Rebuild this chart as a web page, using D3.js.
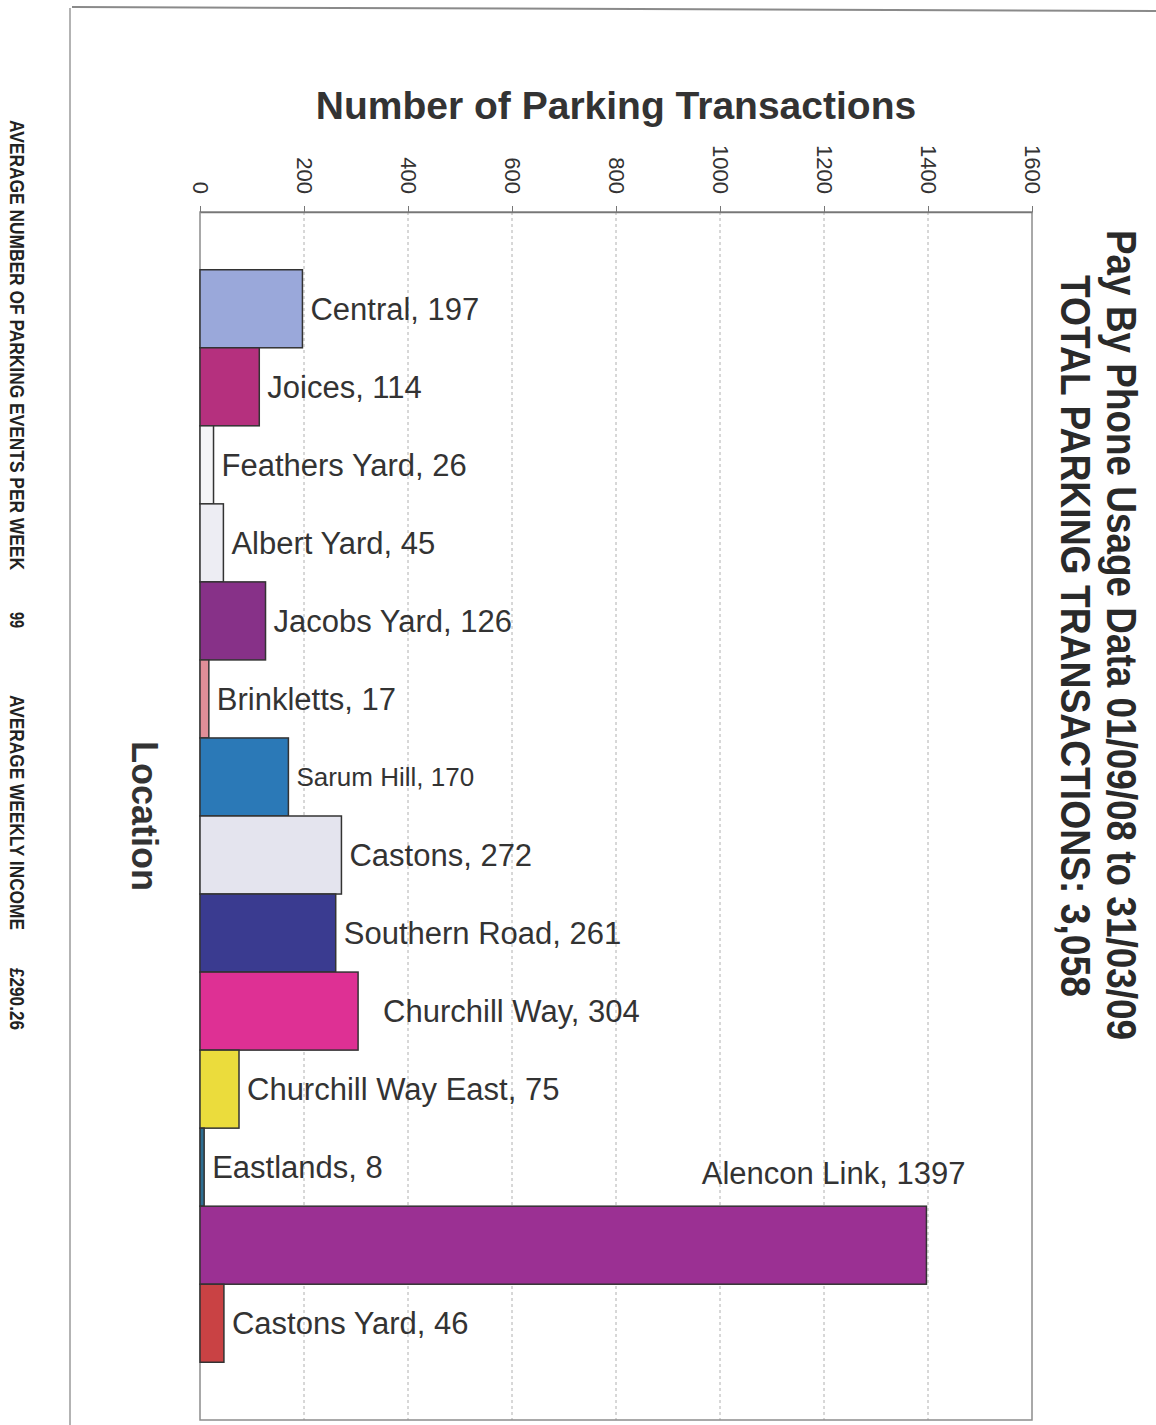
<!DOCTYPE html>
<html>
<head>
<meta charset="utf-8">
<script src="https://cdn.jsdelivr.net/npm/d3@7"></script>
<style>
  body { margin: 0; background: #fff; }
  svg { display: block; font-family: "Liberation Sans", Arial, sans-serif; }
</style>
</head>
<body>
<div id="chart"></div>
<script>
// data
const locations = ['Central', 'Joices', 'Feathers Yard', 'Albert Yard', 'Jacobs Yard', 'Brinkletts',
  'Sarum Hill', 'Castons', 'Southern Road', 'Churchill Way', 'Churchill Way East', 'Eastlands',
  'Alencon Link', 'Castons Yard'];
const transactions = [197, 114, 26, 45, 126, 17, 170, 272, 261, 304, 75, 8, 1397, 46];
const barColours = ['#9aa8da', '#b5307e', '#f5f5f7', '#ededf3', '#873188', '#e08e98',
  '#2b79b7', '#e4e4ee', '#3a3b90', '#de3094', '#ebdc3c', '#2e6e92', '#9b3093', '#c94244'];
const xTicks = [0, 200, 400, 600, 800, 1000, 1200, 1400, 1600];

const titleText = 'Number of Parking Transactions';
const headLines = ['Pay By Phone Usage Data 01/09/08 to 31/03/09', 'TOTAL PARKING TRANSACTIONS: 3,058'];
const footTexts = ['AVERAGE NUMBER OF PARKING EVENTS PER WEEK', '99', 'AVERAGE WEEKLY INCOME', '£290.26'];

const data = locations.map((name, i) => ({name, value: transactions[i], colour: barColours[i]}));

const W = 1156, H = 1425;
const svg = d3.select('#chart').append('svg')
  .attr('width', W)
  .attr('height', H);

// page edge of the scanned sheet
svg.append('line')
  .attr('x1', 72).attr('y1', 7).attr('x2', W).attr('y2', 11)
  .attr('stroke', '#8a8a8a').attr('stroke-width', 2);
svg.append('line')
  .attr('x1', 70).attr('y1', 8).attr('x2', 70).attr('y2', H)
  .attr('stroke', '#9a9a9a').attr('stroke-width', 1.5);

const plot = {left: 200, right: 1032, top: 212, bottom: 1420};

const xScale = d3.scaleLinear()
  .domain([0, 1600])
  .range([plot.left, plot.right]);

const yScale = d3.scaleBand()
  .domain(locations)
  .range([plot.top, plot.bottom])
  .paddingInner(0)
  .paddingOuter(0.74);

// dashed gridlines
svg.append('g').selectAll('line')
  .data(xTicks.slice(1, -1))
  .join('line')
    .attr('x1', d => xScale(d)).attr('x2', d => xScale(d))
    .attr('y1', plot.top).attr('y2', plot.bottom)
    .attr('stroke', '#b0b0b0')
    .attr('stroke-dasharray', '3,3');

svg.append('rect')
  .attr('x', plot.left).attr('y', plot.top)
  .attr('width', plot.right - plot.left).attr('height', plot.bottom - plot.top)
  .attr('fill', 'none').attr('stroke', '#8c8c8c').attr('stroke-width', 1.5);

const axis = svg.append('g')
  .attr('transform', `translate(0, ${plot.top})`)
  .call(d3.axisTop(xScale).tickValues(xTicks).tickFormat(d3.format('d')).tickSize(6).tickSizeOuter(0));
axis.select('.domain').attr('stroke', '#777').attr('stroke-width', 1.5);
axis.selectAll('.tick line').attr('stroke', '#777');
axis.selectAll('.tick text')
  .attr('x', -18).attr('y', 0).attr('dy', '0.35em')
  .attr('transform', 'rotate(90)')
  .attr('text-anchor', 'end')
  .attr('font-family', '"Liberation Sans", Arial, sans-serif')
  .attr('font-size', 22)
  .attr('fill', '#333');

// bars
svg.append('g').selectAll('rect')
  .data(data)
  .join('rect')
    .attr('x', xScale(0))
    .attr('y', d => yScale(d.name))
    .attr('width', d => xScale(d.value) - xScale(0))
    .attr('height', yScale.bandwidth())
    .attr('fill', d => d.colour)
    .attr('stroke', '#333')
    .attr('stroke-width', 1.5);

// data labels, "Name, value"
const maxValue = d3.max(transactions);
const nudge = {'Churchill Way': 17};
svg.append('g').selectAll('text')
  .data(data)
  .join('text')
    .attr('x', d => d.value === maxValue ? xScale(d.value) + 39 : xScale(d.value) + 8 + (nudge[d.name] || 0))
    .attr('y', d => d.value === maxValue
      ? yScale(d.name) - yScale.bandwidth() / 2 + 6
      : yScale(d.name) + yScale.bandwidth() / 2)
    .attr('dy', '0.35em')
    .attr('text-anchor', d => d.value === maxValue ? 'end' : 'start')
    .attr('font-size', d => d.name === 'Sarum Hill' ? 26 : 31)
    .attr('fill', '#333')
    .text(d => `${d.name}, ${d.value}`);

// titles
svg.append('text')
  .attr('x', 616).attr('y', 119)
  .attr('text-anchor', 'middle')
  .attr('font-size', 39).attr('font-weight', 'bold')
  .attr('fill', '#333')
  .text(titleText);

svg.append('text')
  .attr('transform', 'translate(132, 816) rotate(90)')
  .attr('text-anchor', 'middle')
  .attr('font-size', 36).attr('font-weight', 'bold')
  .attr('fill', '#333')
  .text('Location');

const heads = [{x: 1107, y: 635, len: 810, size: 43}, {x: 1061, y: 636, len: 722, size: 42}];
svg.append('g').selectAll('text')
  .data(headLines)
  .join('text')
    .attr('transform', (d, i) => `translate(${heads[i].x}, ${heads[i].y}) rotate(90)`)
    .attr('text-anchor', 'middle')
    .attr('font-size', (d, i) => heads[i].size)
    .attr('font-weight', 'bold')
    .attr('textLength', (d, i) => heads[i].len)
    .attr('lengthAdjust', 'spacingAndGlyphs')
    .attr('fill', '#2a2a2a')
    .text(d => d);

// footer line of the sheet, down the left edge
const feet = [{y: 120, len: 450}, {y: 612, len: 16}, {y: 695, len: 235}, {y: 968, len: 62}];
svg.append('g').selectAll('text')
  .data(footTexts)
  .join('text')
    .attr('transform', (d, i) => `translate(10, ${feet[i].y}) rotate(90)`)
    .attr('font-size', 21)
    .attr('font-weight', 'bold')
    .attr('textLength', (d, i) => feet[i].len)
    .attr('lengthAdjust', 'spacingAndGlyphs')
    .attr('fill', '#222')
    .text(d => d);
</script>
</body>
</html>
